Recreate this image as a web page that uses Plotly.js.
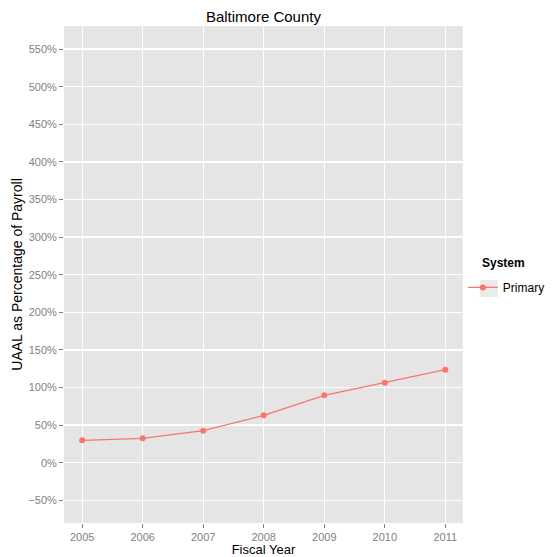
<!DOCTYPE html>
<html>
<head>
<meta charset="utf-8">
<script src="https://cdn.plot.ly/plotly-3.0.1.min.js"></script>
<style>html,body{margin:0;padding:0;background:#fff;}</style>
</head>
<body>
<div id="chart" style="width:555px;height:557px;"></div>
<script>
const years = [2005, 2006, 2007, 2008, 2009, 2010, 2011];
const primaryPct = [29.8, 32.4, 42.6, 63.0, 89.6, 106.4, 123.7];
const yTicks = [-50, 0, 50, 100, 150, 200, 250, 300, 350, 400, 450, 500, 550];
const yTickLabels = yTicks.map(v => (v < 0 ? '\u2212' + Math.abs(v) : v) + '%');

const trace = {
  x: years,
  y: primaryPct,
  type: 'scatter',
  mode: 'lines+markers',
  name: 'Primary',
  line: {color: '#F8766D', width: 1.2},
  marker: {color: '#F8766D', size: 6}
};

const layout = {
  width: 555,
  height: 557,
  margin: {l: 64, r: 91, t: 26, b: 34},
  paper_bgcolor: '#ffffff',
  plot_bgcolor: '#e5e5e5',
  font: {family: 'Liberation Sans, Arial, sans-serif'},
  title: {text: 'Baltimore County', font: {size: 15, color: '#000'}, x: 0.5, xref: 'paper', y: 0.98, yanchor: 'top'},
  xaxis: {
    range: [2004.70, 2011.29],
    tickvals: years,
    ticktext: years.map(String),
    showgrid: true, gridcolor: '#ffffff', gridwidth: 1.3,
    zeroline: false,
    ticks: 'outside', ticklen: 4, tickcolor: '#7f7f7f', tickwidth: 1,
    tickfont: {size: 11, color: '#7f7f7f'},
    title: {text: 'Fiscal Year', font: {size: 13, color: '#000'}, standoff: 0},
    showline: false
  },
  yaxis: {
    range: [-80.2, 580.7],
    tickvals: yTicks,
    ticktext: yTickLabels,
    showgrid: true, gridcolor: '#ffffff', gridwidth: 1.3,
    zeroline: false,
    ticks: 'outside', ticklen: 4, tickcolor: '#7f7f7f', tickwidth: 1,
    tickfont: {size: 11, color: '#7f7f7f'},
    title: {text: 'UAAL as Percentage of Payroll', font: {size: 14, color: '#000'}, standoff: 2},
    showline: false
  },
  showlegend: true,
  legend: {
    xref: 'container', yref: 'container',
    x: 0.834, xanchor: 'left', y: 0.510, yanchor: 'top',
    font: {size: 12, color: '#000'},
    bgcolor: 'rgba(0,0,0,0)',
    itemwidth: 30
  },
  annotations: [{
    text: '<b>System</b>', xref: 'paper', yref: 'paper',
    x: 1.0425, y: 0.523, xanchor: 'left', yanchor: 'middle',
    showarrow: false, font: {size: 12, color: '#000'}
  }],
  shapes: [{
    type: 'rect', xref: 'paper', yref: 'paper',
    x0: 1.0425, x1: 1.0875, y0: 0.4547, y1: 0.489,
    fillcolor: '#ebebeb', line: {width: 0}, layer: 'below'
  }]
};

Plotly.newPlot('chart', [trace], layout, {displayModeBar: false, staticPlot: true});
</script>
</body>
</html>
